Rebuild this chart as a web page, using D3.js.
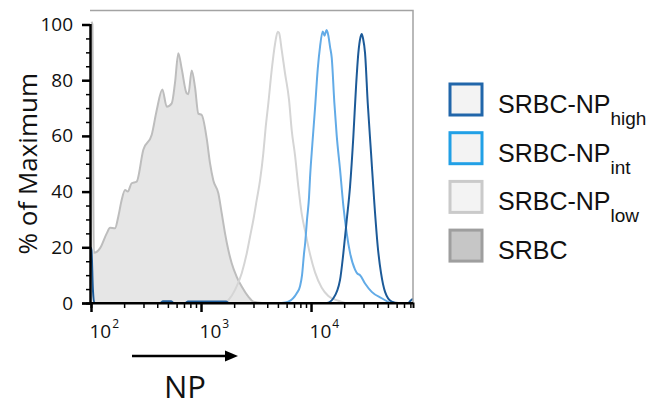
<!DOCTYPE html>
<html>
<head>
  <meta charset="UTF-8">
  <title>NP histogram</title>
  <style>
    body { margin: 0; padding: 0; background: #fff; }
    text { font-family: "Open Sans", sans-serif; fill: #111; }
    .legend text { font-family: "Liberation Sans", Arial, sans-serif; }
  </style>
</head>
<body>
<svg width="654" height="406"></svg>
<script src="https://d3js.org/d3.v7.min.js"></script>
<script>

// histogram values, NP fluorescence vs % of maximum
var srbcNP  = [101, 103, 106, 121, 139, 149, 165, 177, 190, 204, 216, 234, 260, 299, 356, 396, 445, 488, 542, 580, 622, 668, 741, 767, 823, 882, 945, 1015, 1127, 1207, 1294, 1437, 1543, 1653, 1771, 1901, 2111, 2344, 2692, 2989, 3585]
var srbcPct = [101, 100, 18, 19.7, 25, 27, 26.8, 31, 37, 40.6, 40, 43, 43.6, 55, 60.3, 69.3, 76.7, 70.5, 71.7, 79, 89.7, 84, 75.3, 75, 83.5, 77.5, 68, 67.5, 59, 50.2, 44, 39.4, 32.2, 25, 19, 14.3, 9.4, 5.9, 2.3, 0.5, 0]

var lowNP  = [1653, 1771, 2038, 2344, 2603, 2789, 2989, 3209, 3439, 3685, 3875, 4091, 4392, 4707, 4982, 5119, 5416, 5802, 6310, 6675, 7154, 7665, 8231, 8820, 9793, 10875, 12512, 14369, 17710, 20378]
var lowPct = [0, 1, 4.7, 10.7, 17.8, 23.8, 29.8, 37, 44, 53.8, 63.3, 71.7, 83.7, 93, 97.4, 97, 90.8, 82.5, 72.9, 62, 53, 41.8, 32, 26, 17.5, 11, 5.5, 2.5, 0.8, 0]

var intNP  = [5416, 6219, 7413, 7943, 8284, 8638, 8820, 9197, 9590, 9793, 10276, 10875, 11506, 12071, 12774, 13265, 13832, 14369, 14888, 15427, 16287, 17125, 18350, 19662, 21113, 22624, 25119, 26475, 27898, 30975, 35627, 43923, 52255]
var intPct = [0, 0.5, 3.5, 6, 10, 17.8, 21, 30, 38, 45, 57, 70, 84, 92, 97.5, 96, 98, 96, 92, 88, 72, 60, 48, 35, 25, 18, 12, 10.5, 10, 7, 4, 1.7, 0]

var highNP  = [99, 101, 104, 107, 424, 451, 534, 568, 715, 762, 1688, 1797, 13890, 15945, 18350, 19662, 21113, 22624, 24240, 25652, 26915, 28184, 28900, 29694, 30975, 32776, 35124, 37634, 40410, 43292, 47075, 54156, 62195, 76166, 81110, 84500]
var highPct = [20, 19, 5, 0, 0, 0.6, 0.6, 0, 0, 0.5, 0.5, 0, 0, 1.7, 8.3, 17.8, 29.8, 41.8, 59.7, 77.7, 89.7, 95.5, 96.6, 95, 89.7, 71.7, 53.8, 35.8, 20.2, 10.7, 4, 0.5, 0, 0, 1, 1.5]

var xMajor = [100, 1000, 10000]
var xMinor = [200, 300, 400, 500, 600, 700, 800, 900, 2000, 3000, 4000, 5000, 6000, 7000, 8000, 9000, 20000, 30000, 40000, 50000, 60000, 70000, 80000]
var yMajor = [0, 20, 40, 60, 80, 100]
var yMinor = [5, 10, 15, 25, 30, 35, 45, 50, 55, 65, 70, 75, 85, 90, 95]

var legendNames = ["SRBC-NP", "SRBC-NP", "SRBC-NP", "SRBC"]
var legendSubs  = ["high", "int", "low", ""]

var svg = d3.select("svg")

var x = d3.scaleLog().domain([100, 84500]).range([91, 413])
var y = d3.scaleLinear().domain([0, 100]).range([303, 24.5])
var axisX = x(100) - 1

function zip(a, b) { return a.map((v, i) => [v, b[i]]) }

svg.append("clipPath").attr("id", "plot")
  .append("rect")
  .attr("x", axisX).attr("y", y(105))
  .attr("width", x(84500) - axisX).attr("height", y(0) - y(105) + 1)

var line = d3.line()
  .x(d => x(d[0]))
  .y(d => y(d[1]))
  .curve(d3.curveMonotoneX)

var area = d3.area()
  .x(d => x(d[0]))
  .y0(y(0))
  .y1(d => y(d[1]))
  .curve(d3.curveMonotoneX)

var g = svg.append("g").attr("clip-path", "url(#plot)")

g.append("path")
  .datum(zip(srbcNP, srbcPct))
  .attr("d", area)
  .style("fill", "#e6e6e6")

g.append("path")
  .datum(zip(srbcNP, srbcPct))
  .attr("d", line)
  .style("fill", "none")
  .style("stroke", "#bdbdbd")
  .style("stroke-width", 2)

var curves = [
  [lowNP, lowPct, "#d5d5d5"],
  [intNP, intPct, "#62abe7"],
  [highNP, highPct, "#1c5a98"]
]

curves.forEach(c => {
  g.append("path")
    .datum(zip(c[0], c[1]))
    .attr("d", line)
    .style("fill", "none")
    .style("stroke", c[2])
    .style("stroke-width", 2)
})

// frame, top and right
svg.append("path")
  .attr("d", "M" + axisX + "," + y(105) + "H" + x(84500) + "V" + y(0))
  .style("fill", "none")
  .style("stroke", "#a3a3a3")
  .style("stroke-width", 1.5)

// y axis
var yAxisMinor = svg.append("g")
  .attr("transform", "translate(" + axisX + ",0)")
  .call(d3.axisLeft(y).tickValues(yMinor).tickSize(4).tickFormat(""))

var yAxis = svg.append("g")
  .attr("transform", "translate(" + axisX + ",0)")
  .call(d3.axisLeft(y).tickValues(yMajor).tickSize(8).tickPadding(9))

yAxisMinor.selectAll("line").style("stroke-width", 1.5)
yAxis.selectAll("line").style("stroke-width", 2.5)
yAxis.selectAll("text").style("font-size", "19px")

// x axis
var xAxisMinor = svg.append("g")
  .attr("transform", "translate(0," + y(0) + ")")
  .call(d3.axisBottom(x).tickValues(xMinor).tickSize(5).tickFormat(""))

var xAxis = svg.append("g")
  .attr("transform", "translate(0," + y(0) + ")")
  .call(d3.axisBottom(x).tickValues(xMajor).tickSize(9))

xAxis.select(".domain").attr("d", "M" + axisX + ",0H" + x(84500))
xAxisMinor.selectAll("line").style("stroke-width", 1.5)
xAxis.selectAll("line").style("stroke-width", 2.5)

xAxis.selectAll(".tick text").each(function (d) {
  var t = d3.select(this)
  t.text("")
    .attr("text-anchor", "start")
    .attr("x", -2)
    .attr("y", 35)
    .attr("dy", 0)
    .style("font-size", "19px")
  t.append("tspan").text("10")
  t.append("tspan")
    .text(Math.round(Math.log10(d)))
    .attr("dy", -10)
    .attr("dx", 1)
    .style("font-size", "12px")
})

svg.selectAll(".domain").style("stroke", "#000").style("stroke-width", 2)
svg.selectAll(".tick line").style("stroke", "#000")
svg.selectAll(".tick text").style("fill", "#111").style("font-family", "'Open Sans', sans-serif")

// axis titles
svg.append("text")
  .attr("transform", "translate(37," + y(50) + ") rotate(-90)")
  .attr("text-anchor", "middle")
  .style("font-size", "26px")
  .text("% of Maximum")

svg.append("line")
  .attr("x1", 132).attr("x2", 228)
  .attr("y1", 356).attr("y2", 356)
  .style("stroke", "#000")
  .style("stroke-width", 2.5)

svg.append("path")
  .attr("d", "M238,356L225,350.5L225,361.5Z")
  .style("fill", "#000")

svg.append("text")
  .attr("x", 185)
  .attr("y", 398)
  .attr("text-anchor", "middle")
  .style("font-size", "31px")
  .text("NP")

// legend
var legendStroke = ["#2166aa", "#21a0e6", "#cacaca", "#9e9e9e"]
var legendFill = ["#f3f3f3", "#f3f3f3", "#f3f3f3", "#c6c6c6"]

var legend = svg.append("g").attr("class", "legend")

var rows = legend.selectAll("g")
  .data(legendNames)
  .enter()
  .append("g")
  .attr("transform", (d, i) => "translate(0," + (99.5 + i * 48.7) + ")")

rows.append("rect")
  .attr("x", 450).attr("y", -15.5)
  .attr("width", 32).attr("height", 31)
  .style("fill", (d, i) => legendFill[i])
  .style("stroke", (d, i) => legendStroke[i])
  .style("stroke-width", 3)

var labels = rows.append("text")
  .attr("x", 498)
  .attr("y", 13.5)
  .style("font-size", "25px")

labels.append("tspan").text(d => d)
labels.append("tspan")
  .text((d, i) => legendSubs[i])
  .attr("dy", 12)
  .style("font-size", "19px")

</script>
</body>
</html>
